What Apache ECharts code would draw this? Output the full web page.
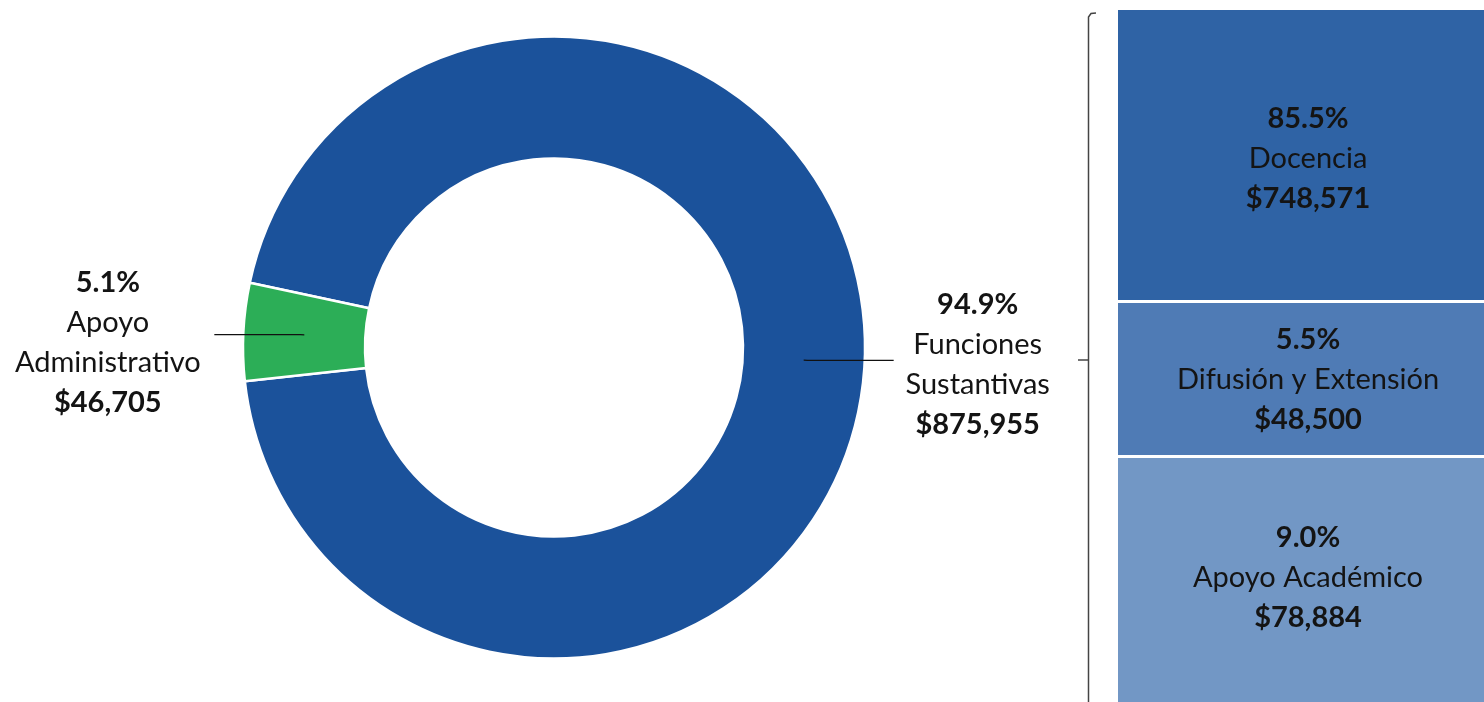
<!DOCTYPE html>
<html><head><meta charset="utf-8">
<script src="https://cdn.jsdelivr.net/npm/echarts@6/dist/echarts.min.js"></script>
<style>html,body{margin:0;padding:0;background:#fff}#c{width:1484px;height:702px}</style>
</head><body><div id="c"></div>
<script>
// ---- data ----
const pieCategories = ['Funciones Sustantivas', 'Apoyo Administrativo'];
const pieValues = [875955, 46705];
const barCategories = ['Docencia', 'Difusión y Extensión', 'Apoyo Académico'];
const barValues = [748571, 48500, 78884];

// ---- styling ----
const FONT = 'Lato';
const TXT = '#141414';
const pieColors = ['#1B529B', '#2CAE57'];
const barColors = ['#2F63A5', '#4F7BB5', '#7297C5'];
const barLabelOffsets = [[7, 4], [7, 1], [7, -2]];

const money = v => '$' + v.toLocaleString('en-US');
const pct = (v, arr) => (v / arr.reduce((a, b) => a + b, 0) * 100).toFixed(1) + '%';

function rich(w, fs) {
  const base = { fontFamily: FONT, fontSize: fs, lineHeight: 40, color: TXT, align: 'center' };
  if (w) base.width = w;
  return { b: Object.assign({}, base, { fontWeight: 'bold' }), n: Object.assign({}, base) };
}

const labelWidths = [160, 205];
const pieLabelData = pieCategories.map((name, i) => ({
  name, value: pieValues[i],
  label: {
    formatter: '{b|' + pct(pieValues[i], pieValues) + '}\n' +
      name.split(' ').map(s => '{n|' + s + '}').join('\n') + '\n{b|' + money(pieValues[i]) + '}',
    rich: rich(labelWidths[i], 29)
  }
}));

const grids = [
  { left: 1118, top: 10, width: 380, height: 290 },
  { left: 1118, top: 303, width: 380, height: 152 },
  { left: 1118, top: 458, width: 380, height: 244 }
];

const option = {
  animation: false,
  grid: grids,
  xAxis: barCategories.map((c, i) => ({ type: 'category', gridIndex: i, data: [c], show: false })),
  yAxis: barValues.map((v, i) => ({ type: 'value', gridIndex: i, min: 0, max: v, show: false })),
  series: [
    {
      type: 'pie', center: [554, 347.5], radius: [189, 311], startAngle: 168, clockwise: true,
      silent: true, z: 2, label: { show: false }, labelLine: { show: false },
      itemStyle: { borderColor: '#fff', borderWidth: 2.5 },
      color: pieColors,
      data: pieCategories.map((name, i) => ({ name, value: pieValues[i] }))
    },
    {
      type: 'pie', center: [554, 347.5], radius: [0, 250], startAngle: 168, clockwise: true,
      silent: true, avoidLabelOverlap: false, z: 5,
      itemStyle: { color: 'rgba(0,0,0,0)' },
      label: { show: true, position: 'outside', distanceToLabelLine: 4 },
      labelLine: { show: true, length: 4, length2: 86, lineStyle: { color: '#111', width: 1.3 } },
      labelLayout: function (p) { return { dy: p.dataIndex === 1 ? 8 : 4 }; },
      data: pieLabelData
    }
  ].concat(barValues.map((v, i) => ({
    type: 'bar', xAxisIndex: i, yAxisIndex: i, barWidth: '100%', silent: true,
    itemStyle: { color: barColors[i] },
    label: {
      show: true, position: 'inside', offset: barLabelOffsets[i],
      formatter: '{b|' + pct(v, barValues) + '}\n{n|' + barCategories[i] + '}\n{b|' + money(v) + '}',
      rich: rich(0, 29)
    },
    data: [v]
  }))),
  graphic: [
    { type: 'polyline', shape: { points: [[1096, 13], [1091, 13.5], [1088.5, 17], [1088.5, 702]] },
      style: { stroke: '#444', lineWidth: 1.5, fill: null } },
    { type: 'line', shape: { x1: 1078, y1: 360, x2: 1088.5, y2: 360 },
      style: { stroke: '#444', lineWidth: 1.5 } }
  ]
};

const chart = echarts.init(document.getElementById('c'), null, { renderer: 'canvas' });
chart.setOption(option);
</script>
</body></html>
